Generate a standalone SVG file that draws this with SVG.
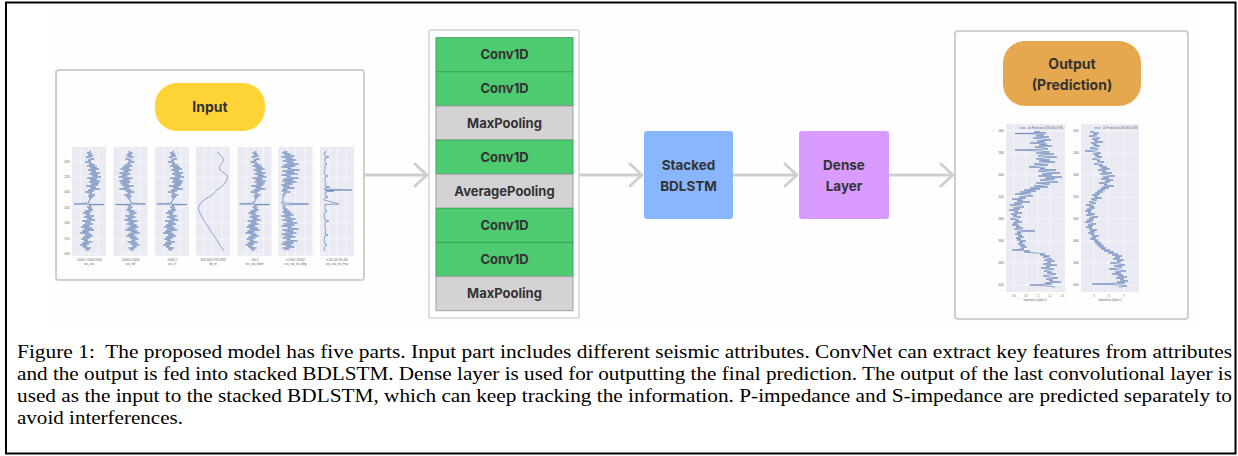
<svg xmlns="http://www.w3.org/2000/svg" xmlns:xlink="http://www.w3.org/1999/xlink" width="1238" height="456" viewBox="0 0 1238 456">
  <style>
    .lbl { font-family: Inter, "Noto Sans", "Liberation Sans", sans-serif; font-weight: 700; fill: #333; text-anchor: middle; }
    .panel { fill: none; stroke: #cfcfcf; stroke-width: 2; }
    .conv { fill: #4ecb71; stroke: #3aa85a; stroke-width: 1; }
    .pool { fill: #d5d2d5; stroke: #a3a1a3; stroke-width: 1; }
    .plotbg { fill: #eaeaf2; }
    .trace { fill: none; stroke: #4c72b0; stroke-width: 0.6; stroke-linejoin: round; }
    .tick { font-family: "Liberation Sans", sans-serif; font-size: 2.6px; fill: #666; }
    .cap { font-family: "Liberation Serif", "Times New Roman", serif; font-size: 18.8px; fill: #000; white-space: pre; }
    .conn { fill: none; stroke: #cfcfcf; stroke-width: 3; }
  </style>
  <defs>
    <pattern id="dots" width="8" height="8" patternUnits="userSpaceOnUse">
      <circle cx="2" cy="2" r="0.6" fill="#d6d6d6"/>
    </pattern>
    <marker id="chev" viewBox="0 0 16 26" refX="14" refY="13" markerWidth="16" markerHeight="26" markerUnits="userSpaceOnUse" orient="auto">
      <path d="M2,2 L14,13 L2,24" fill="none" stroke="#cfcfcf" stroke-width="3" stroke-linecap="round" stroke-linejoin="round"/>
    </marker>
    <!-- seaborn-style white grid inside a 34px attribute panel -->
    <g id="grid">
      <rect class="plotbg" x="0" y="147" width="34" height="109"/>
      <g stroke="#fff" stroke-width="0.5">
        <line x1="0" y1="162" x2="34" y2="162"/><line x1="0" y1="177" x2="34" y2="177"/>
        <line x1="0" y1="192" x2="34" y2="192"/><line x1="0" y1="208" x2="34" y2="208"/>
        <line x1="0" y1="223" x2="34" y2="223"/><line x1="0" y1="239" x2="34" y2="239"/>
        <line x1="0" y1="254" x2="34" y2="254"/>
        <line x1="9" y1="147" x2="9" y2="256"/><line x1="17" y1="147" x2="17" y2="256"/><line x1="26" y1="147" x2="26" y2="256"/>
      </g>
    </g>
    <!-- generic seismic trace -->
    <path id="seis" class="trace" d="M17,151 L19,152 L15,153 L20,154 L16,155 L21,156 L14,157 L18,158 L22,159 L16,160 L19,161 L13,162 L20,163 L17,164 L23,165 L15,166 L25,167 L18,168 L27,169 L16,170 L24,171 L19,172 L28,173 L17,174 L26,175 L20,176 L29,177 L15,178 L25,179 L18,180 L28,181 L17,182 L27,183 L19,184 L26,185 L14,186 L24,187 L18,188 L28,189 L16,190 L22,191 L13,192 L20,193 L17,194 L23,195 L16,196 L21,197 L17,198 L19,199 L17,200 L18,201 L16,202 L17,203 L2,204 L32,204.5 L17,205 L19,206 L15,207 L20,208 L16,209 L21,210 L13,211 L19,212 L11,213 L18,214 L14,215 L22,216 L12,217 L20,218 L15,219 L23,220 L10,221 L19,222 L13,223 L21,224 L11,225 L18,226 L9,227 L20,228 L12,229 L22,230 L10,231 L17,232 L8,233 L19,234 L13,235 L21,236 L11,237 L18,238 L9,239 L16,240 L12,241 L20,242 L10,243 L17,244 L8,245 L15,246 L11,247 L19,248 L13,249 L17,250 L15,251"/>
  </defs>

  <!-- figure frame -->
  <rect x="6" y="2.5" width="1229.5" height="451" fill="#fff" stroke="#000" stroke-width="2"/>
  <!-- canvas dot grid -->
  <rect x="46" y="7" width="1152" height="321" fill="url(#dots)"/>

  <!-- connectors -->
  <g id="connectors">
    <path class="conn" d="M364,175 L427,175" marker-end="url(#chev)"/>
    <path class="conn" d="M579,175 L642,175" marker-end="url(#chev)"/>
    <path class="conn" d="M733,175 L797,175" marker-end="url(#chev)"/>
    <path class="conn" d="M889,175 L953,175" marker-end="url(#chev)"/>
  </g>

  <!-- input attributes -->
  <g id="input">
    <rect class="panel" x="56" y="70" width="308" height="210" rx="3"/>
    <rect x="155" y="83" width="110" height="48" rx="22" fill="#fdd335"/>
    <text class="lbl" x="210" y="112" font-size="14">Input</text>
    <g class="tick" text-anchor="end">
      <text x="70" y="163">2500</text><text x="70" y="178">2750</text><text x="70" y="193">3000</text>
      <text x="70" y="209">3250</text><text x="70" y="224">3500</text><text x="70" y="240">3750</text><text x="70" y="255">4000</text>
    </g>
    <g transform="translate(72,0)">
      <use xlink:href="#grid"/><use xlink:href="#seis"/>
      <text class="tick" x="17" y="261" text-anchor="middle">-10000  0  10000 20000</text>
      <text class="tick" x="17" y="265" text-anchor="middle">seis_raw</text>
    </g>
    <g transform="translate(113.5,0)">
      <use xlink:href="#grid"/><use xlink:href="#seis" transform="translate(34,0) scale(-1,1)"/>
      <text class="tick" x="17" y="261" text-anchor="middle">-20000   0   20000</text>
      <text class="tick" x="17" y="265" text-anchor="middle">seis_rdif</text>
    </g>
    <g transform="translate(155,0)">
      <use xlink:href="#grid"/><use xlink:href="#seis"/>
      <text class="tick" x="17" y="261" text-anchor="middle">-50000    0</text>
      <text class="tick" x="17" y="265" text-anchor="middle">seis_hi</text>
    </g>
    <g transform="translate(196,0)">
      <use xlink:href="#grid"/>
      <path class="trace" d="M21,152 C24,155 28,157 27,161 C26,165 22,166 24,170 C27,173 33,174 31,179 C29,186 22,188 19,192 C16,196 12,197 8,200 C3,204 1,208 4,213 C8,222 16,232 22,242 C25,247 27,249 28,251"/>
      <text class="tick" x="17" y="261" text-anchor="middle">3500 3600 3700 3800</text>
      <text class="tick" x="17" y="265" text-anchor="middle">lfp_ref</text>
    </g>
    <g transform="translate(237.5,0)">
      <use xlink:href="#grid"/><use xlink:href="#seis"/>
      <text class="tick" x="17" y="261" text-anchor="middle">-100     0</text>
      <text class="tick" x="17" y="265" text-anchor="middle">seis_raw_hilbert</text>
    </g>
    <g transform="translate(278.5,0)">
      <use xlink:href="#grid"/>
      <path class="trace" d="M5,151 L9,152 L4,153 L12,154 L6,155 L16,156 L3,157 L14,158 L7,159 L18,160 L4,161 L15,162 L8,163 L20,164 L5,165 L17,166 L3,167 L13,168 L9,169 L21,170 L4,171 L16,172 L7,173 L19,174 L3,175 L12,176 L8,177 L20,178 L5,179 L15,180 L4,181 L18,182 L6,183 L14,184 L3,185 L11,186 L5,187 L16,188 L4,189 L9,190 L3,191 L12,192 L5,193 L7,194 L4,195 L6,196 L4,197 L5,198 L4,199 L5,200 L4,201 L5,202 L3,203 L30,204 L4,205 L5,206 L7,207 L4,208 L9,209 L5,210 L11,211 L4,212 L13,213 L6,214 L15,215 L3,216 L12,217 L7,218 L17,219 L4,220 L14,221 L8,222 L19,223 L5,224 L16,225 L3,226 L13,227 L9,228 L20,229 L4,230 L15,231 L7,232 L18,233 L3,234 L14,235 L6,236 L17,237 L4,238 L12,239 L8,240 L19,241 L5,242 L15,243 L3,244 L13,245 L7,246 L16,247 L4,248 L11,249 L6,250"/>
      <text class="tick" x="17" y="261" text-anchor="middle">0   50000  100000</text>
      <text class="tick" x="17" y="265" text-anchor="middle">seis_raw_inst_Amp</text>
    </g>
    <g transform="translate(320,0)">
      <use xlink:href="#grid"/>
      <path class="trace" d="M5,151 L6,152 L4,153 L5,156 L9,157 L5,158 L5,163 L7,164 L5,165 L5,170 L4,171 L5,175 L8,176 L5,177 L5,182 L6,183 L5,186 L10,187 L5,188 L4,189 L32,190 L5,190.5 L14,191 L5,192 L6,194 L5,196 L8,197 L5,198 L4,200 L19,204 L5,204.5 L5,210 L7,211 L5,212 L4,216 L5,220 L9,221 L5,222 L5,228 L6,229 L5,234 L8,235 L5,236 L4,240 L5,244 L7,245 L5,246 L4,248 L5,251"/>
      <text class="tick" x="17" y="261" text-anchor="middle">0 100 200 300 400</text>
      <text class="tick" x="17" y="265" text-anchor="middle">seis_raw_inst_Freq</text>
    </g>
  </g>

  <!-- ConvNet block -->
  <g id="convnet">
    <rect x="429" y="30" width="150" height="288" rx="2" fill="#fff" stroke="#d4d4d4" stroke-width="1.5"/>
    <rect class="conv" x="436" y="37.7" width="137" height="34.1"/>
    <rect class="conv" x="436" y="71.8" width="137" height="34.1"/>
    <rect class="pool" x="436" y="106" width="137" height="34.1"/>
    <rect class="conv" x="436" y="140.1" width="137" height="34.1"/>
    <rect class="pool" x="436" y="174.2" width="137" height="34.1"/>
    <rect class="conv" x="436" y="208.3" width="137" height="34.1"/>
    <rect class="conv" x="436" y="242.5" width="137" height="34.1"/>
    <rect class="pool" x="436" y="276.6" width="137" height="34.1"/>
    <g font-size="13">
      <text class="lbl" x="504.5" y="59.3">Conv1D</text>
      <text class="lbl" x="504.5" y="93.4">Conv1D</text>
      <text class="lbl" x="504.5" y="127.6">MaxPooling</text>
      <text class="lbl" x="504.5" y="161.7">Conv1D</text>
      <text class="lbl" x="504.5" y="195.8">AveragePooling</text>
      <text class="lbl" x="504.5" y="229.9">Conv1D</text>
      <text class="lbl" x="504.5" y="264.1">Conv1D</text>
      <text class="lbl" x="504.5" y="298.2">MaxPooling</text>
    </g>
  </g>

  <!-- recurrent block -->
  <g id="bdlstm">
    <rect x="644" y="131" width="89" height="88" rx="3" fill="#88b6ff"/>
    <text class="lbl" x="688.5" y="170" font-size="13.5">Stacked</text>
    <text class="lbl" x="688.5" y="190.5" font-size="13.5">BDLSTM</text>
  </g>

  <!-- dense block -->
  <g id="dense">
    <rect x="799" y="131" width="90" height="88" rx="3" fill="#d99bff"/>
    <text class="lbl" x="844" y="170" font-size="13.5">Dense</text>
    <text class="lbl" x="844" y="190.5" font-size="13.5">Layer</text>
  </g>

  <!-- predictions -->
  <g id="output">
    <rect class="panel" x="955" y="31" width="233" height="288" rx="3"/>
    <rect x="1003" y="41" width="138" height="65" rx="22" fill="#e6a84e"/>
    <text class="lbl" x="1072" y="69" font-size="14">Output</text>
    <text class="lbl" x="1072" y="90" font-size="14">(Prediction)</text>

    <rect class="plotbg" x="1006" y="124" width="59" height="168"/>
    <rect class="plotbg" x="1081" y="124" width="58" height="168"/>
    <g stroke="#fff" stroke-width="0.5">
      <line x1="1006" y1="131" x2="1065" y2="131"/><line x1="1006" y1="153" x2="1065" y2="153"/><line x1="1006" y1="175" x2="1065" y2="175"/>
      <line x1="1006" y1="197" x2="1065" y2="197"/><line x1="1006" y1="219" x2="1065" y2="219"/><line x1="1006" y1="241" x2="1065" y2="241"/>
      <line x1="1006" y1="263" x2="1065" y2="263"/><line x1="1006" y1="285" x2="1065" y2="285"/>
      <line x1="1014" y1="124" x2="1014" y2="292"/><line x1="1026" y1="124" x2="1026" y2="292"/><line x1="1038" y1="124" x2="1038" y2="292"/><line x1="1050" y1="124" x2="1050" y2="292"/>
      <line x1="1081" y1="131" x2="1139" y2="131"/><line x1="1081" y1="153" x2="1139" y2="153"/><line x1="1081" y1="175" x2="1139" y2="175"/>
      <line x1="1081" y1="197" x2="1139" y2="197"/><line x1="1081" y1="219" x2="1139" y2="219"/><line x1="1081" y1="241" x2="1139" y2="241"/>
      <line x1="1081" y1="263" x2="1139" y2="263"/><line x1="1081" y1="285" x2="1139" y2="285"/>
      <line x1="1094" y1="124" x2="1094" y2="292"/><line x1="1109" y1="124" x2="1109" y2="292"/><line x1="1124" y1="124" x2="1124" y2="292"/>
    </g>
    <polyline class="trace" points="1040,131 1034,132 1046,133 1015,133.5 1038,134 1044,135 1036,136 1049,137 1033,138 1042,139 1051,140 1037,141 1045,142 1030,143 1047,144 1039,145 1052,146 1035,147 1043,148 1048,149 1015,150 1040,151 1050,152 1036,153 1054,154 1041,155 1038,156 1057,157 1044,158 1036,159 1050,160 1039,161 1055,162 1042,163 1034,164 1048,165 1037,166 1029,167 1045,168 1040,169 1056,170 1038,171 1047,172 1060,173 1042,174 1052,175 1038,176 1062,177 1045,178 1055,179 1040,180 1049,181 1058,182 1036,183 1050,184 1044,185 1034,186 1048,187 1030,188 1040,189 1024,190 1036,191 1020,192 1031,193 1015,194 1027,195 1033,196 1019,197 1026,198 1012,199 1023,200 1017,201 1030,202 1014,203 1022,204 1010,205 1019,206 1024,207 1013,208 1020,209 1009,210 1018,211 1014,212 1022,213 1011,214 1017,215 1013,216 1021,217 1016,218 1010,219 1019,220 1015,221 1022,222 1013,223 1018,224 1012,225 1020,226 1016,227 1023,228 1014,229 1019,230 1035,231 1017,232 1021,233 1015,234 1022,235 1018,236 1024,237 1016,238 1021,239 1017,240 1026,241 1019,242 1023,243 1018,244 1025,245 1020,246 1027,247 1021,248 1024,249 1012,250 1030,251 1024,252 1036,253 1045,254 1040,255 1050,256 1043,257 1048,258 1052,259 1044,260 1055,261 1047,262 1051,263 1043,264 1057,265 1046,266 1050,267 1041,268 1054,269 1048,270 1044,271 1052,272 1047,273 1056,274 1049,275 1043,276 1051,277 1058,278 1046,279 1053,280 1049,281 1061,282 1045,283 1052,284 1030,285 1048,286 1055,287"/>
    <polyline class="trace" points="1094,131 1090,132 1099,133 1093,134 1097,135 1089,136 1096,137 1100,138 1092,139 1098,140 1094,141 1103,142 1091,143 1097,144 1093,145 1100,146 1095,147 1090,148 1098,149 1094,150 1085,151 1096,152 1101,153 1093,154 1099,155 1095,156 1102,157 1096,158 1092,159 1100,160 1097,161 1104,162 1098,163 1094,164 1103,165 1099,166 1107,167 1101,168 1110,169 1098,170 1106,171 1102,172 1112,173 1100,174 1108,175 1115,176 1103,177 1109,178 1101,179 1113,180 1105,181 1110,182 1099,183 1107,184 1104,185 1114,186 1102,187 1109,188 1100,189 1105,190 1097,191 1103,192 1095,193 1100,194 1092,195 1098,196 1094,197 1102,198 1091,199 1097,200 1093,201 1089,202 1096,203 1091,204 1086,205 1094,206 1089,207 1095,208 1087,209 1092,210 1085,211 1091,212 1088,213 1095,214 1086,215 1092,216 1098,217 1089,218 1094,219 1087,220 1093,221 1085,222 1090,223 1096,224 1088,225 1093,226 1086,227 1092,228 1089,229 1097,230 1090,231 1095,232 1088,233 1094,234 1091,235 1099,236 1092,237 1096,238 1090,239 1098,240 1094,241 1100,242 1095,243 1102,244 1097,245 1104,246 1099,247 1106,248 1101,249 1110,250 1104,251 1114,252 1108,253 1118,254 1112,255 1122,256 1115,257 1120,258 1113,259 1124,260 1117,261 1121,262 1110,263 1119,264 1125,265 1114,266 1122,267 1118,268 1109,269 1120,270 1126,271 1115,272 1121,273 1112,274 1123,275 1118,276 1127,277 1116,278 1124,279 1120,280 1128,281 1117,282 1125,283 1092,284 1121,285 1127,286 1119,287"/>
    <!-- legends -->
    <line x1="1019" y1="128" x2="1026" y2="128" stroke="#4c72b0" stroke-width="0.7"/>
    <text class="tick" x="1028" y="129">Zp Prediction (CNN-BDLSTM)</text>
    <line x1="1094" y1="128" x2="1101" y2="128" stroke="#4c72b0" stroke-width="0.7"/>
    <text class="tick" x="1103" y="129">Zs Prediction (CNN-BDLSTM)</text>
    <g class="tick" text-anchor="end">
      <text x="1004" y="132">2600</text><text x="1004" y="154">2800</text><text x="1004" y="176">3000</text><text x="1004" y="198">3200</text>
      <text x="1004" y="220">3400</text><text x="1004" y="242">3600</text><text x="1004" y="264">3800</text><text x="1004" y="286">4000</text>
      <text x="1079" y="132">2600</text><text x="1079" y="154">2800</text><text x="1079" y="176">3000</text><text x="1079" y="198">3200</text>
      <text x="1079" y="220">3400</text><text x="1079" y="242">3600</text><text x="1079" y="264">3800</text><text x="1079" y="286">4000</text>
    </g>
    <g class="tick" text-anchor="middle">
      <text x="1014" y="297">0.9</text><text x="1026" y="297">1.0</text><text x="1038" y="297">1.1</text><text x="1050" y="297">1.2</text><text x="1062" y="297">1.3</text>
      <text x="1035" y="301">Impedance (kg/m²s)</text>
      <text x="1094" y="297">5</text><text x="1109" y="297">6</text><text x="1124" y="297">7</text>
      <text x="1110" y="301">Impedance (kg/m²s)</text>
    </g>
  </g>

  <!-- caption -->
  <g id="caption">
    <text class="cap" x="17" y="358" textLength="1215" lengthAdjust="spacingAndGlyphs">Figure 1:  The proposed model has five parts. Input part includes different seismic attributes. ConvNet can extract key features from attributes</text>
    <text class="cap" x="17" y="380" textLength="1215" lengthAdjust="spacingAndGlyphs">and the output is fed into stacked BDLSTM. Dense layer is used for outputting the final prediction. The output of the last convolutional layer is</text>
    <text class="cap" x="17" y="402" textLength="1215" lengthAdjust="spacingAndGlyphs">used as the input to the stacked BDLSTM, which can keep tracking the information. P-impedance and S-impedance are predicted separately to</text>
    <text class="cap" x="17" y="424" textLength="166" lengthAdjust="spacingAndGlyphs">avoid interferences.</text>
  </g>
</svg>
